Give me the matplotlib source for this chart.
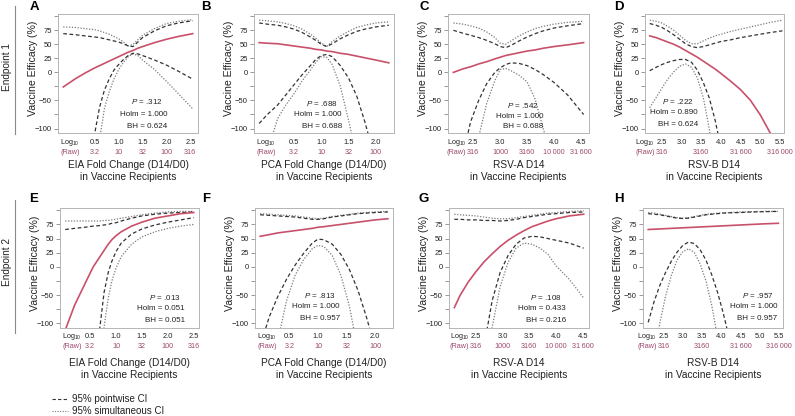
import matplotlib
matplotlib.use('Agg')
import matplotlib.pyplot as plt
from matplotlib.lines import Line2D
from matplotlib.transforms import blended_transform_factory

plt.rcParams['font.family'] = ['Liberation Sans', 'DejaVu Sans']
plt.rcParams['mathtext.fontset'] = 'custom'
plt.rcParams['mathtext.rm'] = 'Liberation Sans'
plt.rcParams['mathtext.it'] = 'Liberation Sans:italic'

# ---------------- data ----------------
A_x = [-0.16, 0.1, 0.3, 0.5, 0.6, 0.7, 0.8, 0.9, 1.0, 1.1, 1.2, 1.3, 1.4, 1.5, 1.75, 2.0, 2.25, 2.55]
A_est = [-26, -11, -1, 8, 12, 16, 20, 24, 28, 32, 36, 39, 43, 46, 53, 59, 64, 69]
A_pw_hi = [69, 67, 65, 63, 62, 60, 58, 56, 54, 51, 47, 46, 54, 62, 74, 83, 88, 92]
A_sim_hi = [81, 80, 78, 76, 74, 71, 68, 64, 60, 54, 47, 50, 58, 66, 78, 87, 91, 94]
A_pw_lo = [-400, -300, -200, -108, -62, -32, -12, 4, 14, 23, 30, 34, 33, 30, 22, 13, 2, -12]
A_sim_lo = [-500, -400, -300, -180, -120, -65, -35, -12, 5, 18, 28, 33, 30, 22, 5, -16, -38, -65]

B_x = [-0.14, 0.0, 0.2, 0.35, 0.5, 0.65, 0.8, 0.9, 1.0, 1.1, 1.2, 1.35, 1.5, 1.65, 1.8, 2.0, 2.24]
B_est = [53, 52, 51, 49, 47, 45, 43, 41, 40, 38, 37, 34, 32, 29, 26, 22, 17]
B_pw_hi = [88, 86, 84, 81, 77, 71, 63, 57, 50, 46, 51, 60, 67, 73, 77, 81, 84]
B_sim_hi = [93, 92, 90, 87, 83, 77, 68, 61, 52, 46, 55, 65, 73, 80, 84, 88, 90]
B_pw_lo = [-91, -76, -58, -40, -22, -4, 12, 23, 30, 32, 28, 12, -10, -42, -88, -160, -250]
B_sim_lo = [-200, -145, -82, -58, -38, -15, 4, 18, 28, 27, 14, -25, -85, -150, -220, -300, -400]

C_x = [2.13, 2.3, 2.45, 2.6, 2.75, 2.9, 3.0, 3.1, 3.2, 3.35, 3.5, 3.65, 3.8, 4.0, 4.25, 4.55]
C_est = [0, 6, 10, 15, 19, 24, 27, 30, 32, 35, 38, 40, 43, 46, 49, 53]
C_pw_hi = [75, 70, 66, 62, 57, 51, 46, 44, 48, 56, 63, 69, 74, 79, 83, 87]
C_sim_hi = [88, 86, 83, 79, 72, 62, 52, 50, 56, 65, 72, 78, 82, 86, 89, 91]
C_pw_lo = [-250, -150, -88, -50, -20, 0, 8, 14, 17, 16, 12, 5, -4, -18, -40, -75]
C_sim_lo = [-400, -280, -180, -115, -55, -15, 5, 7, 3, -5, -17, -48, -100, -170, -280, -420]

D_x = [2.19, 2.35, 2.5, 2.65, 2.8, 2.95, 3.1, 3.25, 3.4, 3.55, 3.7, 3.85, 4.0, 4.25, 4.5, 4.75, 5.0, 5.25, 5.56]
D_est = [65, 62, 58, 54, 50, 45, 39, 33, 27, 20, 13, 6, -2, -16, -31, -50, -76, -108, -150]
D_pw_hi = [87, 84, 80, 74, 67, 59, 51, 46, 44, 46, 49, 52, 55, 58, 62, 65, 68, 71, 74]
D_sim_hi = [93, 91, 88, 82, 75, 66, 57, 51, 51, 56, 61, 65, 68, 73, 77, 81, 85, 89, 93]
D_pw_lo = [3, 9, 14, 18, 21, 23, 23, 18, 4, -18, -45, -85, -135, -220, -320, -420, -520, -620, -750]
D_sim_lo = [-63, -45, -28, -12, 1, 11, 15, 9, -10, -45, -100, -165, -240, -350, -470, -600, -730, -860, -1000]

E_x = [0.02, 0.2, 0.4, 0.56, 0.69, 0.77, 0.85, 0.92, 1.0, 1.1, 1.3, 1.5, 1.75, 2.0, 2.25, 2.5]
E_est = [-112, -68, -30, 0, 18, 29, 40, 48, 55, 62, 72, 79, 86, 90, 94, 96]
E_pw_hi = [66, 68, 70, 72, 73, 74, 75, 77, 78, 81, 86, 90, 93, 95, 96, 97]
E_sim_hi = [81, 81, 81, 81, 81, 82, 82, 83, 84, 86, 89, 92, 95, 97, 98, 98]
E_pw_lo = [-500, -400, -300, -190, -106, -45, -10, 10, 27, 42, 58, 67, 74, 79, 83, 87]
E_sim_lo = [-600, -500, -380, -250, -160, -106, -55, -25, -2, 18, 40, 53, 62, 68, 72, 75]

F_x = [-0.01, 0.15, 0.3, 0.45, 0.6, 0.75, 0.9, 1.0, 1.1, 1.25, 1.4, 1.55, 1.7, 1.85, 2.0, 2.22]
F_est = [54, 57, 60, 62, 64, 66, 68, 70, 71, 73, 75, 77, 79, 81, 83, 85]
F_pw_hi = [92, 91, 90, 89, 88, 86, 84, 84, 85, 88, 90, 92, 94, 95, 96, 97]
F_sim_hi = [94, 93, 92, 91, 90, 88, 86, 85, 86, 89, 91, 93, 95, 96, 97, 98]
F_pw_lo = [-140, -88, -52, -22, 3, 24, 42, 49, 48, 40, 22, -5, -42, -90, -145, -260]
F_sim_lo = [-400, -260, -130, -60, -15, 13, 32, 38, 36, 20, -15, -70, -150, -240, -330, -480]

G_x = [2.09, 2.2, 2.35, 2.5, 2.65, 2.8, 2.95, 3.1, 3.25, 3.4, 3.55, 3.7, 3.85, 4.0, 4.25, 4.52]
G_est = [-72, -50, -27, -8, 9, 23, 36, 47, 56, 64, 71, 76, 81, 85, 90, 93]
G_pw_hi = [84, 84, 83, 83, 82, 82, 81, 82, 84, 87, 89, 91, 93, 94, 96, 97]
G_sim_hi = [93, 92, 91, 90, 88, 86, 85, 85, 87, 89, 91, 93, 95, 96, 98, 99]
G_pw_lo = [-600, -480, -350, -230, -140, -60, -10, 20, 40, 51, 54, 53, 50, 47, 42, 33]
G_sim_lo = [-800, -650, -500, -350, -220, -107, -35, 8, 33, 42, 40, 33, 22, 2, -22, -55]

H_x = [2.1, 2.25, 2.4, 2.55, 2.7, 2.85, 3.0, 3.15, 3.3, 3.45, 3.6, 3.75, 3.9, 4.05, 4.2, 4.5, 4.8, 5.1, 5.48]
H_est = [66, 66.5, 67, 67.5, 68, 68.5, 69, 69.5, 70, 70.5, 71, 71.5, 72, 72.5, 73, 74, 75, 76, 77]
H_pw_hi = [94, 93, 92, 90, 88, 86, 85.5, 86, 88, 90, 92, 93, 94, 95, 95.5, 96, 97, 97.5, 98]
H_sim_hi = [96, 95, 93, 91, 89, 87, 86, 87, 89, 91, 93, 94, 95, 95.5, 96, 97, 97.5, 98, 98]
H_pw_lo = [-98, -62, -33, -10, 10, 26, 38, 44, 41, 30, 12, -14, -45, -82, -125, -230, -350, -480, -650]
H_sim_lo = [-220, -160, -100, -52, -15, 12, 27, 32, 25, 5, -25, -68, -125, -190, -260, -400, -550, -700, -900]

fold_ticks = [0.5, 1.0, 1.5, 2.0, 2.5]
fold_raw = ['3.2', '10', '32', '100', '316']
pca_ticks = [0.5, 1.0, 1.5, 2.0]
pca_raw = ['3.2', '10', '32', '100']
rsva_ticks = [2.5, 3.0, 3.5, 4.0, 4.5]
rsva_raw = ['316', '1000', '3160', '10\u2009000', '31\u2009600']
rsvb_ticks = [2.5, 3.0, 3.5, 4.0, 4.5, 5.0, 5.5]
rsvb_raw = ['316', '', '3160', '', '31\u2009600', '', '316\u2009000']

y_ticks = [-100, -75, -50, -25, 0, 25, 50, 75, 100]
y_labels = ['\u2212100', '', '\u221250', '', '0', '25', '50', '75', '']

xlabels = ['EIA Fold Change (D14/D0)', 'PCA Fold Change (D14/D0)', 'RSV-A D14', 'RSV-B D14']
p_vals = ['.312', '.688', '.542', '.222', '.013', '.813', '.108', '.957']
holm_vals = ['1.000', '1.000', '1.000', '0.890', '0.051', '1.000', '0.433', '1.000']
bh_vals = ['0.624', '0.688', '0.688', '0.624', '0.051', '0.957', '0.216', '0.957']
letters = ['A', 'B', 'C', 'D', 'E', 'F', 'G', 'H']

# ---------------- layout ----------------
W, H = 795, 416
fig = plt.figure(figsize=(W / 100, H / 100), dpi=100)

RED = '#c8506a'
RAW = '#9e4a6e'
DASH = '#333333'
DOT = '#7a7a7a'
TXT = '#222222'
PT = 0.72  # points per pixel at dpi 100


def rect(l, r, t, b):
    return [l / W, 1 - b / H, (r - l) / W, (b - t) / H]


def fx(px):
    return px / W


def fy(py):
    return 1 - py / H


series = [
    (A_x, A_est, A_pw_lo, A_pw_hi, A_sim_lo, A_sim_hi),
    (B_x, B_est, B_pw_lo, B_pw_hi, B_sim_lo, B_sim_hi),
    (C_x, C_est, C_pw_lo, C_pw_hi, C_sim_lo, C_sim_hi),
    (D_x, D_est, D_pw_lo, D_pw_hi, D_sim_lo, D_sim_hi),
    (E_x, E_est, E_pw_lo, E_pw_hi, E_sim_lo, E_sim_hi),
    (F_x, F_est, F_pw_lo, F_pw_hi, F_sim_lo, F_sim_hi),
    (G_x, G_est, G_pw_lo, G_pw_hi, G_sim_lo, G_sim_hi),
    (H_x, H_est, H_pw_lo, H_pw_hi, H_sim_lo, H_sim_hi),
]
tick_sets = [(fold_ticks, fold_raw), (pca_ticks, pca_raw), (rsva_ticks, rsva_raw), (rsvb_ticks, rsvb_raw)] * 2

# pixel rects (left, right, top, bottom)
rects = [
    (58, 198, 14, 133), (254, 394, 14, 133), (448, 589, 14, 133), (645, 784, 14, 133),
    (60, 199, 208, 328), (255, 393, 208, 328), (449, 589, 208, 328), (643, 783, 208, 328),
]
xlims = [(-0.27, 2.66), (-0.235, 2.335), (2.03, 4.65), (2.07, 5.6),
         (-0.08, 2.6), (-0.10, 2.31), (1.99, 4.62), (1.965, 5.6)]
letter_pos = [(34, 7), (206, 7), (424, 7), (619, 7), (34, 199), (206, 199), (424, 199), (619, 199)]
stat_right = [167, 342, 543, 698, 185, 340, 566, 777]
stat_y = [(102, 114, 126), (104, 115, 126), (106, 117, 127), (101, 113, 124),
          (297, 309, 320), (296, 307, 319), (297, 309, 320), (295, 307, 318)]

for i in range(8):
    l, r, t, b = rects[i]
    ax = fig.add_axes(rect(l, r, t, b))
    x, est, pwlo, pwhi, simlo, simhi = series[i]
    ax.plot(x, simhi, color=DOT, lw=0.9, ls=(0, (1, 1.3)))
    ax.plot(x, simlo, color=DOT, lw=0.9, ls=(0, (1, 1.3)))
    ax.plot(x, pwhi, color=DASH, lw=0.9, ls=(0, (3, 2)))
    ax.plot(x, pwlo, color=DASH, lw=0.9, ls=(0, (3, 2)))
    ax.plot(x, est, color=RED, lw=1.2)
    ax.set_xlim(*xlims[i])
    ax.set_ylim(-108, 104)
    ax.set_xticks([])
    ax.set_yticks(y_ticks)
    ax.set_yticklabels(y_labels)
    ax.tick_params(axis='y', length=3, width=0.6, color='#888888', labelsize=5.5,
                   pad=1.5, labelcolor=TXT)
    for s in ax.spines.values():
        s.set_color('#b5b5b5')
        s.set_linewidth(0.7)
    row = i // 4
    o1, o2 = (10, 20) if row == 0 else (9, 18)
    ticks, raws = tick_sets[i]
    trans = blended_transform_factory(ax.transData, ax.transAxes)
    for tv, rl in zip(ticks, raws):
        ax.annotate(f'{tv:.1f}', xy=(tv, 0), xycoords=trans, xytext=(0, -o1 * PT),
                    textcoords='offset points', ha='center', va='center', fontsize=5.4, color=TXT)
        if rl:
            ax.annotate(rl, xy=(tv, 0), xycoords=trans, xytext=(0, -o2 * PT),
                        textcoords='offset points', ha='center', va='center', fontsize=5.2, color=RAW)
    # Log10 / (Raw) row headers, right-aligned just left of the first tick label
    x0 = xlims[i][0]
    px_per_unit = (r - l) / (xlims[i][1] - xlims[i][0])
    first_px = l + (ticks[0] - x0) * px_per_unit
    right_px = min(l + 22, first_px - 7)
    off = right_px - l
    ax.annotate(r'Log$_{10}$', xy=(0, 0), xycoords='axes fraction', xytext=(off * PT, -o1 * PT),
                textcoords='offset points', ha='right', va='center', fontsize=5.2, color=TXT)
    ax.annotate('(Raw)', xy=(0, 0), xycoords='axes fraction', xytext=(off * PT, -o2 * PT),
                textcoords='offset points', ha='right', va='center', fontsize=5.2, color=RAW)
    cx = (l + r) / 2
    d1, d2 = (32, 44) if row == 0 else (35, 47)
    fig.text(fx(cx), fy(b + d1), xlabels[i % 4], ha='center', va='center', fontsize=7.3, color=TXT)
    fig.text(fx(cx), fy(b + d2), 'in Vaccine Recipients', ha='center', va='center', fontsize=7.3, color=TXT)
    fig.text(fx(l - 25), fy((t + b) / 2 - 5), 'Vaccine Efficacy (%)', rotation=90,
             ha='center', va='center', fontsize=7.6, color=TXT)
    lx, ly = letter_pos[i]
    fig.text(fx(lx), fy(ly), letters[i], ha='center', va='center', fontsize=9.5,
             fontweight='bold', color='black')
    sr = stat_right[i]
    y1, y2, y3 = stat_y[i]
    fig.text(fx(sr - 4), fy(y1), r'$\it{P}$ = ' + p_vals[i], ha='right', va='center', fontsize=5.8, color=TXT)
    fig.text(fx(sr), fy(y2), 'Holm = ' + holm_vals[i], ha='right', va='center', fontsize=5.8, color=TXT)
    fig.text(fx(sr), fy(y3), 'BH = ' + bh_vals[i], ha='right', va='center', fontsize=5.8, color=TXT)

# Endpoint labels with vertical rules
fig.add_artist(Line2D([fx(15), fx(15)], [fy(6), fy(134)], color='#8a8a8a', lw=0.8))
fig.add_artist(Line2D([fx(15), fx(15)], [fy(200), fy(333)], color='#8a8a8a', lw=0.8))
fig.text(fx(7), fy(67), 'Endpoint 1', rotation=90, ha='center', va='center', fontsize=7.2, color=TXT)
fig.text(fx(7), fy(262), 'Endpoint 2', rotation=90, ha='center', va='center', fontsize=7.2, color=TXT)

# Legend
fig.add_artist(Line2D([fx(52), fx(68)], [fy(399), fy(399)], color=DASH, lw=0.8, ls=(0, (3, 2))))
fig.add_artist(Line2D([fx(52), fx(68)], [fy(411), fy(411)], color=DOT, lw=0.8, ls=(0, (1, 1.3))))
fig.text(fx(72), fy(399), '95% pointwise CI', ha='left', va='center', fontsize=7, color=TXT)
fig.text(fx(72), fy(411), '95% simultaneous CI', ha='left', va='center', fontsize=7, color=TXT)

fig.savefig('out.png', dpi=100)
